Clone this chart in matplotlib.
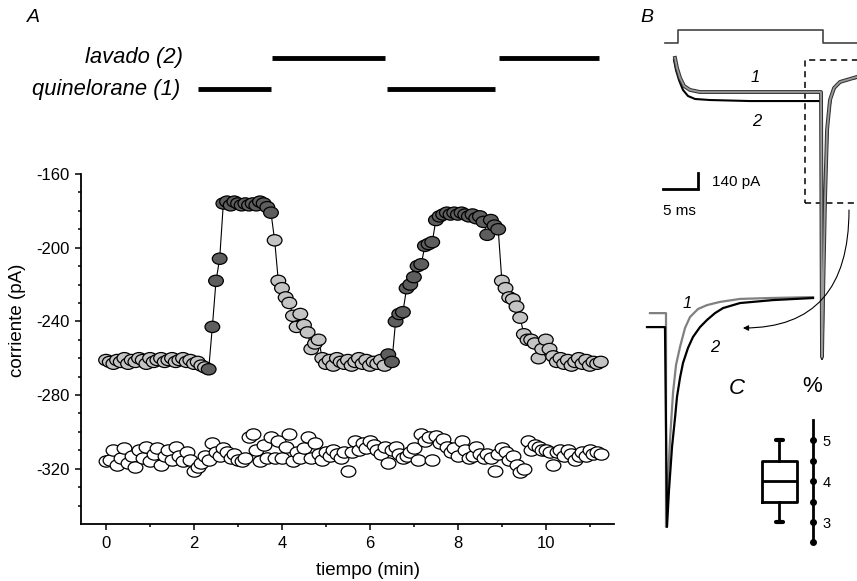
import matplotlib
matplotlib.use("Agg")
import matplotlib.pyplot as plt
import numpy as np
from matplotlib.path import Path
from matplotlib.transforms import Affine2D, blended_transform_factory
from matplotlib.patches import Rectangle, ConnectionPatch

plt.rcParams['font.family'] = ['Liberation Sans', 'DejaVu Sans']
plt.rcParams['axes.unicode_minus'] = False

W, H = 857, 581

# ---- panel A: one sample every 5 s ----
dt_min = 5 / 60
current_drug = [
    -261, -262, -263, -261, -262, -260, -263, -261, -262, -260, -261, -263, -260, -262,
    -261, -260, -262, -261, -260, -262, -261, -260, -262, -261, -263, -262, -264, -265,
    -266, -243, -218, -206,
    -176, -175, -177, -175, -176, -177, -176, -177, -176, -177, -175, -176, -178, -181,
    -196, -218, -222, -227, -230, -237, -243, -236, -242, -246, -255, -252, -250, -260,
    -263, -261, -264, -260, -262, -263, -261, -264, -262, -260, -263, -261, -264, -262,
    -263, -261, -264, -258, -262,
    -240, -236, -235, -222, -220, -216, -210, -209, -199, -198, -197,
    -185, -183, -182, -181, -182, -181, -182, -181, -182, -183, -182, -184, -183, -186,
    -193, -185, -188, -190,
    -218, -222, -227, -228, -232, -238, -247, -250, -250, -252, -260, -255, -250, -255,
    -259, -262, -260, -263, -261, -264, -262, -260, -263, -261, -264, -262, -263, -262,
]
current_ctrl = [
    -316, -315, -310, -318, -314, -309, -317, -313, -319, -310, -314, -308, -316, -312,
    -309, -318, -313, -310, -315, -308, -313, -316, -311, -315,
    -321, -319, -317, -313, -315, -306, -311, -313, -309, -311, -314, -312,
    -315, -316, -314, -303, -301, -310, -316, -307, -314, -303, -314, -305, -314, -308,
    -301, -316, -311, -314,
    -309, -303, -314, -306, -312, -315, -311, -313, -310, -312, -314, -311,
    -321, -311, -305, -310, -306, -309, -305, -307, -310, -312, -308, -317,
    -310, -308, -312, -314, -313, -311, -309, -315, -301, -305, -303, -315,
    -302, -306, -304, -308, -311, -309, -313, -305, -310, -314, -313, -308, -312, -314,
    -312, -314, -321, -312,
    -309, -311, -315, -313, -318, -322, -320, -305, -310, -307, -308, -310, -310, -311,
    -318, -311, -310, -313, -310, -312, -315, -313, -311, -313, -310, -312, -311, -312,
]
dark_ranges = [(2.3, 3.8), (6.4, 8.95)]
quin_bars = [(2.09, 3.75), (6.39, 8.84)]
lav_bars = [(3.77, 6.34), (8.93, 11.2)]
quin_level, lav_level = -114, -97

# ---- panel B: currents (ms, pA) ----
cmd_t = [-1.86, 0, 0, 20.71, 20.71, 25.57]
cmd_mv = [-70, -70, 0, 0, -70, -70]
tr1_t = [-0.43, -0.14, 0.29, 0.86, 1.71, 3.14, 8.86, 16.0, 20.43, 20.57, 20.71, 21.0,
         21.29, 21.71, 22.29, 23.14, 24.57, 25.57]
tr1_i = [324, 236, 149, 79, 44, 26, 26, 26, 26, -2292, -1794, -919, -306, -44, 61, 114,
         140, 158]
tr2_t = [-0.57, -0.29, 0.14, 0.71, 1.43, 2.43, 4.57, 10.29, 16.0, 20.43, 20.57, 20.71,
         20.86, 21.14, 21.43, 21.86, 22.43, 23.43, 24.57, 25.57]
tr2_i = [306, 219, 131, 44, -9, -35, -44, -53, -53, -53, -2310, -2056, -1356, -656, -219,
         -18, 70, 123, 140, 149]

# expanded tails (ms, normalised current)
tail1_t = [-0.567, -0.033, -0.033, 0.033, 0.1, 0.2, 0.3, 0.433, 0.6, 0.767, 1.033, 1.333,
           1.767, 2.433, 3.433, 4.867]
tail1_i = [-0.066, -0.066, -1.0, -0.795, -0.62, -0.415, -0.293, -0.214, -0.131, -0.083,
           -0.048, -0.031, -0.017, -0.004, 0.0, 0.004]
tail2_t = [-0.667, -0.067, 0.0, 0.067, 0.167, 0.267, 0.333, 0.433, 0.533, 0.7, 0.867, 1.1,
           1.333, 1.6, 1.867, 2.433, 3.533, 4.867]
tail2_i = [-0.127, -0.127, -1.0, -0.838, -0.651, -0.524, -0.432, -0.349, -0.284, -0.218,
           -0.17, -0.127, -0.096, -0.066, -0.044, -0.022, -0.009, 0.0]

# ---- panel C: box (%) ----
box_stats = [dict(med=4.0, q1=3.5, q3=4.5, whislo=3.0, whishi=5.0, fliers=[])]
c_dots = [2.5, 3.0, 3.5, 4.0, 4.5, 5.0]

fig = plt.figure(figsize=(W / 100, H / 100), dpi=100)


def px_axes(x0, y0, x1, y1):
    a = fig.add_axes([x0 / W, 1 - y1 / H, (x1 - x0) / W, (y1 - y0) / H])
    a.patch.set_visible(False)
    return a


ell = Path.unit_circle().transformed(Affine2D().scale(1.3, 1.0))

# panel A
ax = px_axes(81, 174, 614, 524)
t = np.arange(len(current_drug)) * dt_min
t_ctrl = np.arange(len(current_ctrl)) * dt_min
dark = np.zeros(len(t), bool)
for a, b in dark_ranges:
    dark |= (t >= a) & (t <= b)
colors = np.where(dark, '#5e5e5e', '#c4c4c4')
ax.plot(t, current_drug, color='k', lw=0.8, zorder=1)
ax.scatter(t, current_drug, s=112, marker=ell, c=colors, edgecolors='k', linewidths=0.9, zorder=2)
ax.scatter(t_ctrl, current_ctrl, s=112, marker=ell, c='white', edgecolors='k', linewidths=0.9,
           zorder=2)

for a, b in quin_bars:
    ax.plot([a, b], [quin_level, quin_level], color='k', lw=3.5, solid_capstyle='butt',
            clip_on=False)
for a, b in lav_bars:
    ax.plot([a, b], [lav_level, lav_level], color='k', lw=3.5, solid_capstyle='butt',
            clip_on=False)
ax.text(1.75, lav_level, 'lavado (2)', ha='right', va='center', style='italic', fontsize=15.8)
ax.text(1.68, quin_level, 'quinelorane (1)', ha='right', va='center', style='italic',
        fontsize=15.8)

ax.set_xlim(-0.57, 11.55)
ax.set_ylim(-350, -160)
ax.set_xticks(np.arange(0, 11, 2))
ax.set_xticks(np.arange(1, 12, 2), minor=True)
ax.set_yticks(np.arange(-320, -159, 40))
ax.set_yticks(np.arange(-340, -159, 10), minor=True)
for s in ['top', 'right']:
    ax.spines[s].set_visible(False)
for s in ['left', 'bottom']:
    ax.spines[s].set_linewidth(1.3)
ax.tick_params(which='major', length=4.5, width=1.1, labelsize=12, pad=4)
ax.tick_params(which='minor', length=2.5, width=1.1)
ax.set_xlabel('tiempo (min)', fontsize=13.5)
ax.set_ylabel('corriente (pA)', fontsize=13.5)
ax.xaxis.set_label_coords(0.538, -0.134)
ax.xaxis.label.set_va('center')
ax.yaxis.set_label_coords(-0.12, 0.583)
ax.yaxis.label.set_va('center')

fig.text(33 / W, 1 - 18 / H, 'A', fontsize=14, style='italic', ha='center', va='center')

# panel B
axb = px_axes(640, 0, 857, 370)
axb.set_xlim(-5.43, 25.57)
axb.set_ylim(-2406, 831)
axb.axis('off')
axb.plot(tr2_t, tr2_i, color='k', lw=1.5)
axb.plot(tr1_t, tr1_i, color='#333333', lw=2.8)
axb.plot(tr1_t, tr1_i, color='#9a9a9a', lw=1.3)
axb.add_patch(Rectangle((18.14, -945), 10, 1251, fill=False, ls=(0, (4, 3)), lw=1.1,
                        clip_on=False))
axb.plot([-2.14, 2.86, 2.86], [-822, -822, -682], color='k', lw=2, solid_joinstyle='miter')
axb.text(4.86, -761, '140 pA', ha='left', va='center', fontsize=11)
axb.text(-2.14, -1015, '5 ms', ha='left', va='center', fontsize=11)
axb.text(11.0, 149, '1', ha='center', va='center', style='italic', fontsize=12)
axb.text(11.3, -236, '2', ha='center', va='center', style='italic', fontsize=12)

axv = px_axes(640, 20, 857, 50)
axv.set_xlim(-5.43, 25.57)
axv.set_ylim(-107.7, 53.8)
axv.axis('off')
axv.plot(cmd_t, cmd_mv, color='#444444', lw=1.2)

fig.text(647 / W, 1 - 18 / H, 'B', fontsize=14, style='italic', ha='center', va='center')

axi = px_axes(640, 290, 857, 540)
axi.set_xlim(-0.9, 6.333)
axi.set_ylim(-1.057, 0.035)
axi.axis('off')
axi.plot(tail1_t, tail1_i, color='#808080', lw=1.6)
axi.plot(tail2_t, tail2_i, color='k', lw=1.6)
axi.text(0.667, -0.022, '1', ha='center', va='center', style='italic', fontsize=12)
axi.text(1.6, -0.214, '2', ha='center', va='center', style='italic', fontsize=12)

arrow = ConnectionPatch((24.43, -1006), (2.53, -0.131), coordsA=axb.transData,
                        coordsB=axi.transData, arrowstyle='-|>', mutation_scale=8, lw=0.8,
                        connectionstyle='angle3,angleA=90,angleB=0', color='k')
fig.add_artist(arrow)

# panel C
axc = px_axes(750, 410, 813, 550)
axc.set_xlim(0, 1)
axc.set_ylim(2.317, 5.732)
axc.bxp(box_stats, positions=[0.468], widths=0.556, manage_ticks=False, capwidths=0.1,
        boxprops=dict(lw=2, color='k'), whiskerprops=dict(lw=2, color='k'),
        capprops=dict(lw=3, color='k', solid_capstyle='round'),
        medianprops=dict(lw=2, color='k'))
for s in ['top', 'left', 'bottom']:
    axc.spines[s].set_visible(False)
axc.spines['right'].set_bounds(2.5, 5.5)
axc.spines['right'].set_linewidth(2)
axc.set_xticks([])
axc.yaxis.tick_right()
axc.set_yticks([3, 4, 5])
axc.tick_params(axis='y', length=0, pad=7, labelsize=10.5)
axc.plot(np.ones(len(c_dots)), c_dots, 'o', ms=4, color='k', clip_on=False,
         transform=blended_transform_factory(axc.transAxes, axc.transData))

fig.text(737 / W, 1 - 388 / H, 'C', fontsize=16, style='italic', ha='center', va='center')
fig.text(812 / W, 1 - 387 / H, '%', fontsize=16, ha='center', va='center')

fig.savefig('out.png', dpi=100)
